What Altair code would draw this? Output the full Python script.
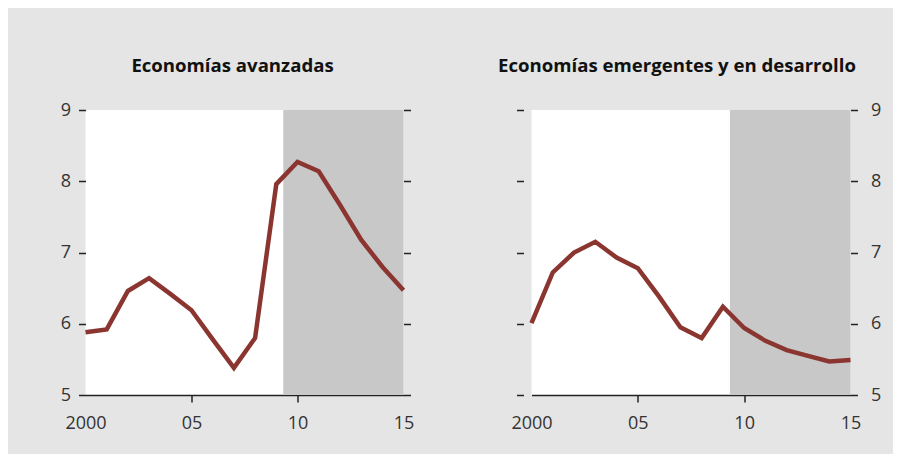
import altair as alt
import pandas as pd

years = list(range(2000, 2016))
avanzadas = [5.88, 5.92, 6.46, 6.64, 6.42, 6.19, 5.78, 5.38, 5.80, 7.96, 8.27, 8.14, 7.67, 7.18, 6.80, 6.47]
emergentes = [6.01, 6.72, 7.00, 7.15, 6.93, 6.78, 6.38, 5.95, 5.80, 6.24, 5.94, 5.76, 5.63, 5.55, 5.47, 5.49]
shade_start = [2009.33]
shade_end = [2015]
y_ticks = [5, 5.5, 6, 6.5, 7, 7.5, 8, 8.5, 9]
x_ticks = [2000, 2005, 2010, 2015]
titles = ["Economías avanzadas", "Economías emergentes y en desarrollo"]

FONT = "Open Sans"
LINE_COLOR = "#8b3530"
SHADE_COLOR = "#c8c8c8"

minor_test = "datum.value % 1 != 0"


def y_axis(orient, show_labels, offset=0):
    return alt.Axis(
        orient=orient,
        values=y_ticks,
        tickCount=30,
        format="d",
        domain=False,
        grid=False,
        offset=offset,
        tickColor="#222222",
        tickWidth=1.5,
        tickSize={"condition": {"test": minor_test, "value": 4}, "value": 7},
        labels=show_labels,
        labelExpr="datum.value % 1 != 0 ? '' : datum.label",
        labelFont=FONT,
        labelFontSize=18,
        labelColor="#333333",
        labelPadding=8 if orient == "left" else 13,
        labelOverlap=False,
    )


x_axis = alt.Axis(
    values=x_ticks,
    tickCount=30,
    format="d",
    grid=False,
    domainColor="#222222",
    domainWidth=1.5,
    tickColor="#222222",
    tickWidth=1.5,
    tickSize=7,
    tickOpacity={"condition": {"test": "datum.value == 2000 || datum.value == 2015", "value": 0}, "value": 1},
    labelExpr="datum.value == 2000 ? datum.label : substring(datum.label, 2)",
    labelFont=FONT,
    labelFontSize=18,
    labelColor="#333333",
    labelPadding=12,
    labelFlush=False,
    labelOverlap=False,
)

x_scale = alt.Scale(domain=[2000, 2015], nice=False, zero=False)
y_scale = alt.Scale(domain=[5, 9], nice=False, zero=False)


def panel(vals, title, labels_right, dx, left_offset, width):
    df = pd.DataFrame({"year": years, "value": vals})
    shade = pd.DataFrame({"start": shade_start, "end": shade_end})
    rect = alt.Chart(shade).mark_rect(color=SHADE_COLOR).encode(
        x=alt.X("start:Q", scale=x_scale, axis=x_axis, title=None),
        x2="end:Q",
    )
    line = alt.Chart(df).mark_line(color=LINE_COLOR, strokeWidth=4.5).encode(
        x=alt.X("year:Q", scale=x_scale, axis=x_axis, title=None),
        y=alt.Y("value:Q", scale=y_scale, axis=y_axis("left", not labels_right, left_offset), title=None),
    )
    ghost = alt.Chart(df).mark_line(strokeOpacity=0).encode(
        x=alt.X("year:Q", scale=x_scale, axis=x_axis, title=None),
        y=alt.Y("value:Q", scale=y_scale, axis=y_axis("right", labels_right), title=None),
    )
    return alt.layer(rect, line, ghost).resolve_axis(y="independent").properties(
        width=width,
        height=285,
        title=alt.Title(
            title,
            font=FONT,
            fontSize=18.6,
            fontWeight="bold",
            color="#111111",
            anchor="middle",
            dx=dx,
            offset=25,
        ),
    )


p1 = panel(avanzadas, titles[0], False, -12, 0, 318)
p2 = panel(emergentes, titles[1], True, -14, 8, 319)

chart = alt.hconcat(p1, p2, spacing=128, bounds="flush").configure(
    background="#e5e5e5",
    padding={"left": 51.5, "top": 49, "right": 11, "bottom": 22},
).configure_view(fill="white", strokeWidth=0)

chart.save("out.html", embed_options={"renderer": "svg", "actions": False})
